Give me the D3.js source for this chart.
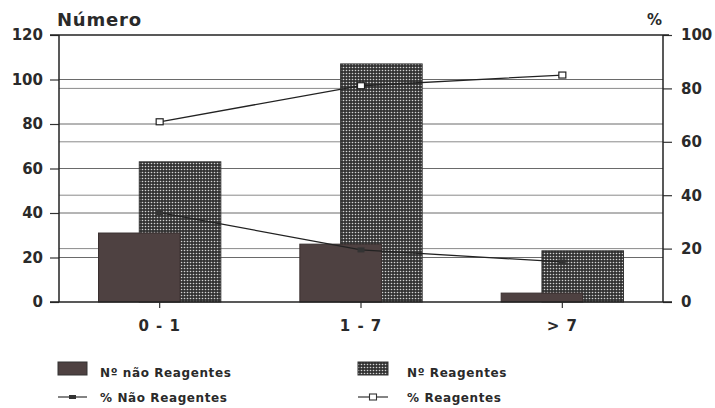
<!DOCTYPE html>
<html>
<head>
<meta charset="utf-8">
<script src="https://cdn.jsdelivr.net/npm/d3@7"></script>
<style>
  body { margin: 0; background: #fff; }
  text { font-family: "DejaVu Sans", "Liberation Sans", sans-serif; font-weight: bold; fill: #2a2a2a; }
</style>
</head>
<body>
<script>
// Data
const categories = ["0 - 1", "1 - 7", "> 7"];
const naoReagentes = [31, 26, 4];       // Nº não Reagentes
const reagentes = [63, 107, 23];        // Nº Reagentes
const pctNao = [33.5, 19.5, 15];        // % Não Reagentes
const pctReag = [67.5, 81, 85];         // % Reagentes
const leftTicks = [0, 20, 40, 60, 80, 100, 120];
const rightTicks = [0, 20, 40, 60, 80, 100];

var W = 715, H = 408;
var plot = {left: 59, right: 663, top: 35, bottom: 302};

var svg = d3.select("body").append("svg")
    .attr("width", W)
    .attr("height", H);

// pattern for the hatched bars
var defs = svg.append("defs");
var pat = defs.append("pattern")
    .attr("id", "hatch")
    .attr("patternUnits", "userSpaceOnUse")
    .attr("width", 3).attr("height", 3);
pat.append("rect").attr("width", 3).attr("height", 3).attr("fill", "#333");
pat.append("circle").attr("cx", 1.5).attr("cy", 1.5).attr("r", 0.8).attr("fill", "#d4d4d4");

var x = d3.scaleBand()
    .domain(categories)
    .range([plot.left, plot.right])
    .padding(0);

var yL = d3.scaleLinear().domain([0, 120]).range([plot.bottom, plot.top]);
var yR = d3.scaleLinear().domain([0, 100]).range([plot.bottom, plot.top]);

var bw = x.bandwidth() * 0.405;
function cx(d) { return x(d) + x.bandwidth() / 2; }

// gridlines (both scales)
var grid = svg.append("g");
leftTicks.filter(t => t > 0 && t < 120).forEach(function(t) {
  grid.append("line")
    .attr("x1", plot.left).attr("x2", plot.right)
    .attr("y1", yL(t)).attr("y2", yL(t))
    .attr("stroke", "#6a6a6a").attr("stroke-width", 1);
});
rightTicks.filter(t => t > 0 && t < 100).forEach(function(t) {
  grid.append("line")
    .attr("x1", plot.left).attr("x2", plot.right)
    .attr("y1", yR(t)).attr("y2", yR(t))
    .attr("stroke", "#8a8a8a").attr("stroke-width", 1);
});

// hatched bars behind
svg.selectAll(".reag")
    .data(reagentes)
    .enter().append("rect")
    .attr("class", "reag")
    .attr("x", (d, i) => cx(categories[i]) - bw * 0.25)
    .attr("y", d => yL(d))
    .attr("width", bw)
    .attr("height", d => plot.bottom - yL(d))
    .attr("fill", "url(#hatch)")
    .attr("stroke", "#333").attr("stroke-width", 1);

// dark bars in front
svg.selectAll(".nao")
    .data(naoReagentes)
    .enter().append("rect")
    .attr("class", "nao")
    .attr("x", (d, i) => cx(categories[i]) - bw * 0.75)
    .attr("y", d => yL(d))
    .attr("width", bw)
    .attr("height", d => plot.bottom - yL(d))
    .attr("fill", "#4e4141")
    .attr("stroke", "#3a3030").attr("stroke-width", 1);

// axes
var axL = svg.append("g")
    .attr("transform", "translate(" + plot.left + ",0)")
    .call(d3.axisLeft(yL).tickValues(leftTicks).tickSize(9).tickPadding(7));
var axR = svg.append("g")
    .attr("transform", "translate(" + plot.right + ",0)")
    .call(d3.axisRight(yR).tickValues(rightTicks).tickSize(9).tickPadding(9));
var axB = svg.append("g")
    .attr("transform", "translate(0," + plot.bottom + ")")
    .call(d3.axisBottom(x).tickSize(6).tickPadding(12));

[axL, axR, axB].forEach(function(a) {
  a.select(".domain").remove();
  a.selectAll(".tick line").attr("stroke", "#333").attr("stroke-width", 1.2);
  a.selectAll(".tick text").style("font-size", "15px").attr("fill", "#2a2a2a");
});
axB.selectAll(".tick text").style("letter-spacing", "1px");

// frame lines: top, bottom, left, right
svg.append("line").attr("x1", plot.left - 9).attr("x2", plot.right + 6)
    .attr("y1", plot.top).attr("y2", plot.top).attr("stroke", "#222").attr("stroke-width", 1.3);
svg.append("line").attr("x1", plot.left - 9).attr("x2", plot.right + 9)
    .attr("y1", plot.bottom).attr("y2", plot.bottom).attr("stroke", "#222").attr("stroke-width", 1.3);
svg.append("line").attr("x1", plot.left).attr("x2", plot.left)
    .attr("y1", plot.top).attr("y2", plot.bottom).attr("stroke", "#222").attr("stroke-width", 1.5);
svg.append("line").attr("x1", plot.right).attr("x2", plot.right)
    .attr("y1", plot.top).attr("y2", plot.bottom).attr("stroke", "#222").attr("stroke-width", 1.5);

// percentage lines
var line = d3.line()
    .x((d, i) => cx(categories[i]))
    .y(d => yR(d));

svg.append("path").datum(pctNao)
    .attr("d", line).attr("fill", "none")
    .attr("stroke", "#222").attr("stroke-width", 1.3);
svg.append("path").datum(pctReag)
    .attr("d", line).attr("fill", "none")
    .attr("stroke", "#222").attr("stroke-width", 1.3);

svg.selectAll(".mNao")
    .data(pctNao)
    .enter().append("rect")
    .attr("x", (d, i) => cx(categories[i]) - 3.5)
    .attr("y", d => yR(d) - 2.5)
    .attr("width", 7).attr("height", 5)
    .attr("fill", "#333");
svg.selectAll(".mReag")
    .data(pctReag)
    .enter().append("rect")
    .attr("x", (d, i) => cx(categories[i]) - 3.5)
    .attr("y", d => yR(d) - 3)
    .attr("width", 7).attr("height", 6)
    .attr("fill", "#fff").attr("stroke", "#222").attr("stroke-width", 1.2);

// axis titles
svg.append("text").attr("x", 57).attr("y", 26)
    .style("font-size", "18px").style("letter-spacing", "0.8px").text("Número");
svg.append("text").attr("x", 647).attr("y", 25)
    .style("font-size", "15px").text("%");

// legend
var leg = svg.append("g").style("font-size", "12px").style("letter-spacing", "0.6px");
leg.append("rect").attr("x", 58).attr("y", 362).attr("width", 29).attr("height", 13)
    .attr("fill", "#4e4141").attr("stroke", "#333");
leg.append("text").attr("x", 100).attr("y", 377).text("Nº não Reagentes");
leg.append("line").attr("x1", 58).attr("x2", 87).attr("y1", 397).attr("y2", 397)
    .attr("stroke", "#333").attr("stroke-width", 1.2);
leg.append("rect").attr("x", 69).attr("y", 395).attr("width", 7).attr("height", 4).attr("fill", "#333");
leg.append("text").attr("x", 100).attr("y", 402).text("% Não Reagentes");

leg.append("rect").attr("x", 358).attr("y", 362).attr("width", 30).attr("height", 13)
    .attr("fill", "url(#hatch)").attr("stroke", "#333");
leg.append("text").attr("x", 407).attr("y", 377).text("Nº Reagentes");
leg.append("line").attr("x1", 358).attr("x2", 388).attr("y1", 397).attr("y2", 397)
    .attr("stroke", "#333").attr("stroke-width", 1.2);
leg.append("rect").attr("x", 369.5).attr("y", 394).attr("width", 7).attr("height", 6)
    .attr("fill", "#fff").attr("stroke", "#333").attr("stroke-width", 1.1);
leg.append("text").attr("x", 407).attr("y", 402).text("% Reagentes");
</script>
</body>
</html>
